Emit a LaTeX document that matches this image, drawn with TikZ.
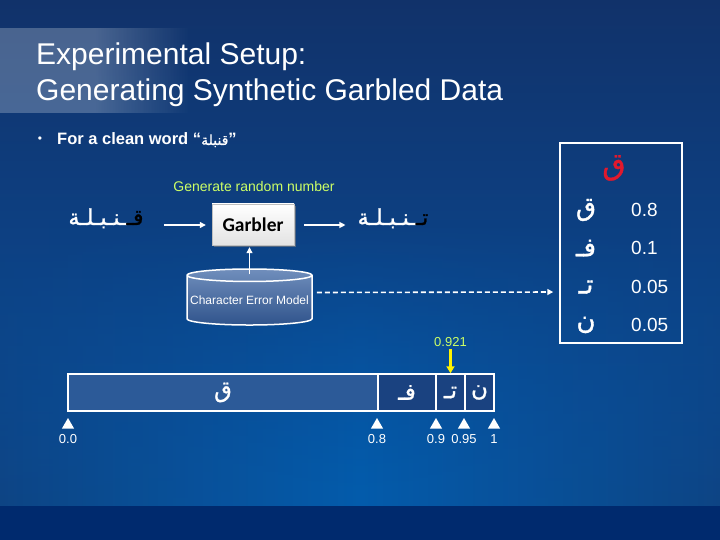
\documentclass[tikz,border=0pt]{standalone}
\usepackage{fontspec}
\setmainfont{Liberation Sans}
\newfontfamily\arabicfont[Script=Arabic, FakeBold=1.2]{DejaVu Sans}
\newfontfamily\garblerfont{Carlito}
\TeXXeTstate=1
\usetikzlibrary{shapes.geometric,arrows.meta,positioning,calc,fadings,shadows}

\definecolor{bgtop}{RGB}{17,50,106}
\definecolor{bgmid}{RGB}{8,80,158}
\definecolor{bgbot}{RGB}{3,92,172}
\definecolor{bgedge}{RGB}{14,68,132}
\definecolor{bandcol}{RGB}{0,42,110}
\definecolor{lime}{RGB}{204,255,102}
\definecolor{arred}{RGB}{225,25,45}
\definecolor{segq}{RGB}{44,90,152}
\definecolor{segrest}{RGB}{26,66,128}
\definecolor{cyltop}{RGB}{112,142,188}
\definecolor{cylbot}{RGB}{48,84,140}

% arabic text, right to left
\newcommand{\artext}[1]{{\arabicfont\beginR #1\endR}}

\begin{document}
\begin{tikzpicture}[x=1pt, y=-1pt,
    arrow/.style={-{Triangle[length=6pt,width=6pt]}, white, line width=1.2pt},
    dasharrow/.style={arrow, line width=1.6pt, dash pattern=on 5pt off 3pt},
    yarrow/.style={-{Triangle[length=7pt,width=8pt]}, yellow, line width=2.5pt},
    garbler/.style={rectangle, draw=gray!50, top color=white, bottom color=gray!22, minimum width=82pt, minimum height=41pt, font=\garblerfont\bfseries\fontsize{19.5}{22}\selectfont, drop shadow={shadow xshift=2pt, shadow yshift=-2pt, opacity=0.6}},
    model/.style={cylinder, shape border rotate=90, aspect=0.105, draw=white, line width=1.5pt, top color=cyltop, bottom color=cylbot, minimum width=125pt, minimum height=56pt, text=white, font=\fontsize{12}{14}\selectfont, inner sep=0pt},
    arword/.style={text=white, inner sep=0pt, font=\fontsize{22}{26}\selectfont},
    letter/.style={text=white, inner sep=0pt, font=\fontsize{26}{30}\selectfont},
    num/.style={text=white, inner sep=0pt, font=\fontsize{19}{22}\selectfont},
    seg/.style={draw=white, line width=1.5pt, minimum height=37pt, inner sep=0pt, text=white, font=\fontsize{23}{26}\selectfont},
    tri/.style={regular polygon, regular polygon sides=3, fill=white, minimum size=14pt, inner sep=0pt},
    ticklabel/.style={text=white, inner sep=0pt, font=\fontsize{13}{15}\selectfont},
    note/.style={text=lime, inner sep=0pt, font=\fontsize{14}{16}\selectfont}
]
    \useasboundingbox (0,0) rectangle (720,540);
    % background
    \shade[top color=bgtop, bottom color=bgmid] (0,0) rectangle (720,506);
    \shade[left color=bgedge, right color=bgedge, middle color=bgbot, path fading=north] (0,220) rectangle (720,506);
    \fill[bandcol] (0,506) rectangle (720,540);
    \fill[white, opacity=0.24] (0,28) rectangle (95,113);
    \fill[white, opacity=0.24, path fading=east] (95,28) rectangle (190,113);

    % title and bullet
    \node[anchor=base west, inner sep=0, text=white, font=\fontsize{30}{34}\selectfont] (title1) at (36,65) {Experimental Setup:};
    \node[anchor=base west, inner sep=0, text=white, font=\fontsize{30}{34}\selectfont] (title2) at (36,101) {Generating Synthetic Garbled Data};
    \node[inner sep=0, text=white, font=\fontsize{12}{14}\selectfont] (bullet) at (40,140) {•};
    \node[anchor=base west, inner sep=0, text=white, font=\bfseries\fontsize{16.5}{20}\selectfont] (clean) at (57,145) {For a clean word “{\mdseries\fontsize{14}{16}\selectfont\artext{قنبلة}}”};

    % garbler
    \node[note] (rand) at (254,186) {Generate random number};
    \node[garbler] (garb) at (253,224.5) {Garbler};
    \node[arword, anchor=base] (wl) at (106,225) {\artext{{\color{arred}قـ}ـنـبـلـة}};
    \node[arword, anchor=base] (wr) at (393,225) {\artext{{\color{arred}تـ}ـنـبـلـة}};
    \node[model] (cem) at (249.5,300.5) {Character Error Model};
    \draw[arrow, shorten <=20pt, shorten >=6pt] (wl.base east) -- (garb.west |- wl.base);
    \draw[arrow, shorten <=10pt, shorten >=12pt] (garb.east |- wr.base) -- (wr.base west);
    \draw[arrow, shorten >=2pt] ([yshift=-6pt]cem.north) -- (cem.north |- garb.south);

    % character error model table
    \node[draw=white, line width=1.5pt, minimum width=122pt, minimum height=200pt] (table) at (621,243) {};
    \node[letter, text=arred, font=\fontsize{30}{34}\selectfont] (hdr) at (614,168) {\artext{ق}};
    \foreach \ch/\p/\y [count=\i] in {ق/0.8/210, فـ/0.1/248, تـ/0.05/287, ن/0.05/325} {
        \node[letter] (let\i) at (586,\y) {\artext{\ch}};
        \node[num, anchor=west] (prob\i) at (631,\y) {\p};
    }
    \draw[dasharrow, shorten <=4pt, shorten >=6pt] ([yshift=8pt]cem.east) -- (table.west |- 0,292);

    % probability bar
    \foreach \a/\b/\ch/\col [count=\i] in {68/378/ق/segq, 378/436/فـ/segrest, 436/465/تـ/segrest, 465/494/ن/segrest} {
        \node[seg, fill=\col, minimum width=\b-\a] (seg\i) at ({(\a+\b)/2},392.5) {\artext{\ch}};
    }
    \node[note, font=\fontsize{13}{15}\selectfont] (pick) at (450.5,342) {0.921};
    \draw[yarrow, shorten <=2pt] (pick.south) -- (seg3.north);
    \foreach \x/\v [count=\i] in {68/0.0, 377/0.8, 436/0.9, 464/0.95, 494/1} {
        \node[tri] (tri\i) at (\x,425) {};
        \node[ticklabel, below=6pt of tri\i] (tl\i) {\v};
    }
\end{tikzpicture}
\end{document}
